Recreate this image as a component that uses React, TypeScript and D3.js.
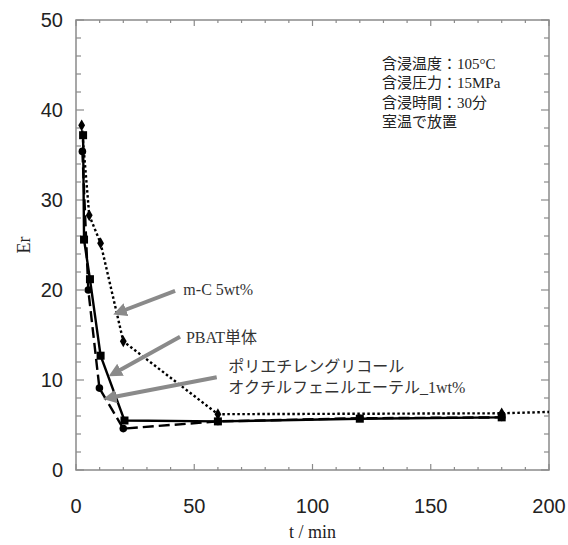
import React, { useEffect, useRef } from "react";
import * as d3 from "d3";

// time (min) and Er for each sample
const mcTime = [2.4, 5.6, 10.4, 20, 60, 180, 200];
const mcEr = [38.3, 28.3, 25.2, 14.3, 6.2, 6.3, 6.45];
const mcMarked = [true, true, true, true, true, true, false];

const pbatTime = [3, 3.4, 5.9, 10.4, 20.5, 60, 120, 180];
const pbatEr = [37.2, 25.6, 21.2, 12.7, 5.5, 5.4, 5.7, 5.85];

const pegTime = [2.7, 5.2, 9.9, 20, 60, 120, 180];
const pegEr = [35.4, 20.0, 9.1, 4.6, 5.4, 5.75, 5.85];

const xTicks = [0, 50, 100, 150, 200];
const yTicks = [0, 10, 20, 30, 40, 50];

const conditions = ["含浸温度：105°C", "含浸圧力：15MPa", "含浸時間：30分", "室温で放置"];

// annotation arrows: [tailX, tailY, tipX, tipY] in data units
const arrows = [
  [41.9, 19.9, 17.9, 17.5],
  [44, 14.8, 15.8, 10.7],
  [59.5, 10.3, 13.7, 8.0],
];
const labels = [
  { x: 45.4, y: 19.4, lines: ["m-C 5wt%"] },
  { x: 46.5, y: 14.1, lines: ["PBAT単体"] },
  { x: 64.4, y: 10.9, lines: ["ポリエチレングリコール", "オクチルフェニルエーテル_1wt%"] },
];

const W = 568;
const H = 545;
const M = { left: 76, right: 19, top: 20, bottom: 75 };

const SERIF = "'Liberation Serif', 'DejaVu Serif', 'Noto Sans CJK JP', serif";
const SANS = "'Liberation Sans', Arial, sans-serif";

export default function App() {
  const ref = useRef<SVGSVGElement>(null);

  useEffect(() => {
    const svg = d3.select(ref.current);
    svg.selectAll("*").remove();

    const x = d3.scaleLinear().domain([0, 200]).range([M.left, W - M.right]);
    const y = d3.scaleLinear().domain([0, 50]).range([H - M.bottom, M.top]);
    const frame = "#8a8a8a";

    svg
      .append("defs")
      .append("marker")
      .attr("id", "head")
      .attr("viewBox", "0 0 10 10")
      .attr("refX", 6)
      .attr("refY", 5)
      .attr("markerWidth", 3.4)
      .attr("markerHeight", 3.4)
      .attr("orient", "auto")
      .append("path")
      .attr("d", "M0,0 L10,5 L0,10 Z")
      .attr("fill", "#8a8a8a");

    // ticks inside the frame
    const g = svg.append("g").attr("stroke", frame).attr("stroke-width", 1.2);
    d3.range(0, 201, 10).forEach((t) => {
      const len = t % 50 === 0 ? 6 : 3;
      g.append("line").attr("x1", x(t)).attr("x2", x(t)).attr("y1", y(0)).attr("y2", y(0) - len);
      g.append("line").attr("x1", x(t)).attr("x2", x(t)).attr("y1", y(50)).attr("y2", y(50) + len);
    });
    d3.range(0, 51, 2).forEach((v) => {
      const len = v % 10 === 0 ? 8 : 5;
      g.append("line").attr("x1", x(0)).attr("x2", x(0) + len).attr("y1", y(v)).attr("y2", y(v));
      g.append("line").attr("x1", x(200)).attr("x2", x(200) - len).attr("y1", y(v)).attr("y2", y(v));
    });
    svg
      .append("rect")
      .attr("x", x(0))
      .attr("y", y(50))
      .attr("width", x(200) - x(0))
      .attr("height", y(0) - y(50))
      .attr("fill", "none")
      .attr("stroke", frame)
      .attr("stroke-width", 1.5);

    // tick labels
    svg
      .append("g")
      .selectAll("text")
      .data(xTicks)
      .join("text")
      .attr("x", (d) => x(d))
      .attr("y", y(0) + 43)
      .attr("text-anchor", "middle")
      .attr("font-family", SANS)
      .attr("font-size", 20)
      .attr("fill", "#222")
      .text((d) => d);
    svg
      .append("g")
      .selectAll("text")
      .data(yTicks)
      .join("text")
      .attr("x", x(0) - 13)
      .attr("y", (d) => y(d) + 7)
      .attr("text-anchor", "end")
      .attr("font-family", SANS)
      .attr("font-size", 20)
      .attr("fill", "#222")
      .text((d) => d);

    svg
      .append("text")
      .attr("x", (x(0) + x(200)) / 2)
      .attr("y", H - 7)
      .attr("text-anchor", "middle")
      .attr("font-family", SERIF)
      .attr("font-size", 18)
      .attr("fill", "#222")
      .text("t / min");
    svg
      .append("text")
      .attr("transform", `translate(30,${y(25)}) rotate(-90)`)
      .attr("text-anchor", "middle")
      .attr("font-family", SERIF)
      .attr("font-size", 18)
      .attr("fill", "#222")
      .text("Er");

    // series lines
    const line = d3
      .line<number>()
      .x((d) => x(d));
    const drawLine = (t: number[], v: number[], dash: string | null) => {
      svg
        .append("path")
        .attr("d", d3.line<number>().x((i) => x(t[i])).y((i) => y(v[i]))(d3.range(t.length)))
        .attr("fill", "none")
        .attr("stroke", "#000")
        .attr("stroke-width", 2.4)
        .attr("stroke-dasharray", dash);
    };
    void line;
    drawLine(mcTime, mcEr, "2.5,2.5");
    drawLine(pegTime, pegEr, "11,5");
    drawLine(pbatTime, pbatEr, null);

    // markers
    svg
      .append("g")
      .selectAll("path")
      .data(d3.range(mcTime.length).filter((i) => mcMarked[i]))
      .join("path")
      .attr("d", d3.symbol(d3.symbolDiamond, 40)())
      .attr("transform", (i) => `translate(${x(mcTime[i])},${y(mcEr[i])})`)
      .attr("fill", "#000");
    svg
      .append("g")
      .selectAll("circle")
      .data(d3.range(pegTime.length))
      .join("circle")
      .attr("cx", (i) => x(pegTime[i]))
      .attr("cy", (i) => y(pegEr[i]))
      .attr("r", 3.8)
      .attr("fill", "#000");
    svg
      .append("g")
      .selectAll("rect")
      .data(d3.range(pbatTime.length))
      .join("rect")
      .attr("x", (i) => x(pbatTime[i]) - 4)
      .attr("y", (i) => y(pbatEr[i]) - 4)
      .attr("width", 8)
      .attr("height", 8)
      .attr("fill", "#000");

    // annotations
    svg
      .append("g")
      .selectAll("line")
      .data(arrows)
      .join("line")
      .attr("x1", (d) => x(d[0]))
      .attr("y1", (d) => y(d[1]))
      .attr("x2", (d) => x(d[2]))
      .attr("y2", (d) => y(d[3]))
      .attr("stroke", "#8a8a8a")
      .attr("stroke-width", 4)
      .attr("marker-end", "url(#head)");

    labels.forEach((l) => {
      l.lines.forEach((s, k) => {
        svg
          .append("text")
          .attr("x", x(l.x))
          .attr("y", y(l.y) + k * 21)
          .attr("font-family", SERIF)
          .attr("font-size", 16)
          .attr("fill", "#333")
          .text(s);
      });
    });

    conditions.forEach((s, k) => {
      svg
        .append("text")
        .attr("x", x(129.4))
        .attr("y", 69 + k * 19.3)
        .attr("font-family", SERIF)
        .attr("font-size", 15)
        .attr("fill", "#222")
        .text(s);
    });
  }, []);

  return (
    <svg
      ref={ref}
      width={W}
      height={H}
      style={{ position: "absolute", left: 0, top: 0, background: "#fff" }}
    />
  );
}
